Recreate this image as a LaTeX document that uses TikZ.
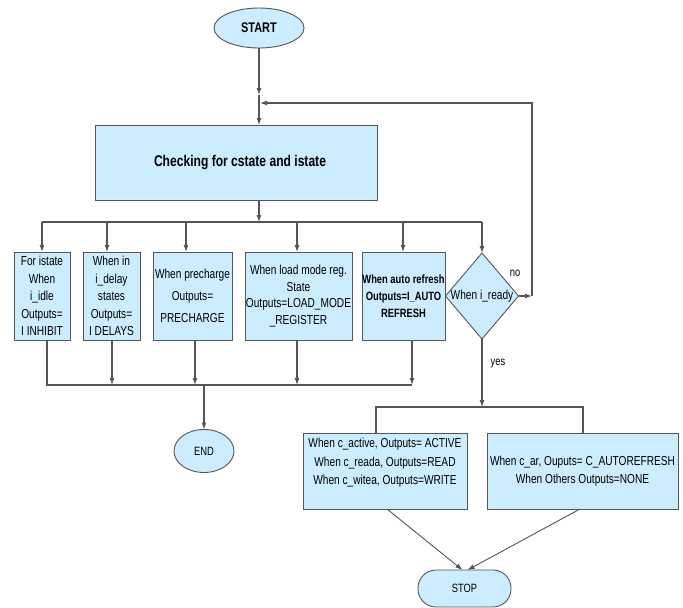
\documentclass[tikz,border=0pt]{standalone}
\usepackage{fontspec}
\setmainfont{Liberation Sans}[FakeStretch=0.78]
\usetikzlibrary{shapes.geometric,arrows.meta}
\definecolor{boxfill}{RGB}{204,236,255}
\definecolor{edge}{RGB}{85,85,85}

\begin{document}
\begin{tikzpicture}[x=1pt,y=-1pt,
  every node/.style={inner sep=0pt, outer sep=0pt},
  proc/.style={draw=edge, fill=boxfill, line width=0.9pt, align=center,
               font=\fontsize{13}{17.5}\selectfont},
  term/.style={ellipse, draw=edge, fill=boxfill, line width=0.9pt},
  flow/.style={draw=edge, line width=1.1pt, -{Latex[length=7pt,width=5pt]}},
  link/.style={draw=edge, line width=1.1pt},
  tag/.style={font=\fontsize{12}{14}\selectfont},
]
\useasboundingbox (0,0) rectangle (683,608);

% terminals and the main check
\node[term, minimum width=90pt, minimum height=40pt,
      font=\bfseries\fontsize{14}{16}\selectfont] (start) at (259,28) {START};
\node[proc, minimum width=282pt, minimum height=75pt,
      font=\bfseries\fontsize{15.5}{18}\selectfont] (check) at (236,162.5)
      {\hspace*{8pt}Checking for cstate and istate};

% state boxes
\node[proc, minimum width=56pt, minimum height=88pt] (b1) at (42,296)
  {For istate\\When\\i\_idle\\Outputs=\\I INHIBIT};
\node[proc, minimum width=57pt, minimum height=88pt] (b2) at (111.5,296)
  {When in\\i\_delay\\states\\Outputs=\\I DELAYS};
\node[proc, minimum width=79pt, minimum height=88pt,
      font=\fontsize{13}{22}\selectfont] (b3) at (192.5,296)
  {When precharge\\Outputs=\\PRECHARGE};
\node[proc, minimum width=107pt, minimum height=88pt,
      font=\fontsize{13}{16.7}\selectfont] (b4) at (298.5,296)
  {When load mode reg.\\State\\Outputs=LOAD\_MODE\\\_REGISTER};
\node[proc, minimum width=83pt, minimum height=88pt,
      font=\bfseries\fontsize{12}{17}\selectfont] (b5) at (403.5,296)
  {When auto refresh\\Outputs=I\_AUTO\\REFRESH};
\node[diamond, draw=edge, fill=boxfill, line width=0.9pt, aspect=0.85,
      minimum width=73pt, minimum height=86pt,
      font=\fontsize{13}{15}\selectfont] (dia) at (482,296) {When i\_ready};

\node[term, minimum width=60pt, minimum height=43pt,
      font=\fontsize{12}{14}\selectfont] (end) at (204,451) {END};

% command boxes
\node[proc, minimum width=164pt, minimum height=76pt] (b6) at (385,471) {};
\node[align=center, font=\fontsize{13}{18.5}\selectfont] (b6txt) at (385,463)
  {When c\_active, Outputs= ACTIVE\\When c\_reada, Outputs=READ\\When c\_witea, Outputs=WRITE};
\node[proc, minimum width=191pt, minimum height=76pt,
      font=\fontsize{13}{18.5}\selectfont] (b7) at (582.5,471)
  {When c\_ar, Ouputs= C\_AUTOREFRESH\\When Others Outputs=NONE};

\node[draw=edge, fill=boxfill, line width=0.9pt, rounded corners=18pt,
      minimum width=93pt, minimum height=37pt,
      font=\fontsize{12}{14}\selectfont] (stop) at (464.5,588.5) {STOP};

% branch labels
\node[tag] (nolbl) at (515,273) {no};
\node[tag] (yeslbl) at (498,364) {yes};

% start into the check, with the loop joining in
\coordinate (a1) at (259,95);
\coordinate (j0) at (259,103);
\draw[flow] (start) -- (a1);
\draw[link] (a1) -- (j0);
\draw[flow] (j0) -- (check.north -| j0);

% loop back from the ready test
\coordinate (loopR) at (532,296);
\draw[flow] (dia.east) -- (loopR);
\draw[flow, shorten >=-1pt] (loopR) |- ([xshift=2pt]j0);

% upper distribution bus
\coordinate (bus) at (259,222);
\coordinate (t1) at (42,222);
\coordinate (t2) at (107,222);
\coordinate (t3) at (186,222);
\coordinate (t4) at (297,222);
\coordinate (t5) at (403,222);
\coordinate (t6) at (482,222);
\draw[flow] (check.south -| bus) -- (bus);
\draw[link] (t1) -- (t6);
\draw[flow] (t1) -- (t1 |- b1.north);
\draw[flow] (t2) -- (t2 |- b2.north);
\draw[flow] (t3) -- (t3 |- b3.north);
\draw[flow] (t4) -- (t4 |- b4.north);
\draw[flow] (t5) -- (t5 |- b5.north);
\draw[flow] (t6) -- (dia.north);

% lower collecting bus into END
\coordinate (o1) at (47,385);
\coordinate (o2) at (112,385);
\coordinate (o3) at (195,385);
\coordinate (o4) at (297,385);
\coordinate (o5) at (412,385);
\coordinate (o0) at (204,385);
\draw[link] (o1 |- b1.south) -- (o1) -- (o5);
\draw[flow] (o2 |- b2.south) -- (o2);
\draw[flow] (o3 |- b3.south) -- (o3);
\draw[flow] (o4 |- b4.south) -- (o4);
\draw[flow] (o5 |- b5.south) -- (o5);
\draw[flow] (o0) -- (end.north);

% ready branch to the command boxes
\coordinate (ybus) at (482,407);
\coordinate (c6) at (376,407);
\coordinate (c7) at (583,407);
\draw[flow] (dia.south) -- (ybus);
\draw[link] (c6 |- b6.north) -- (c6) -- (c7) -- (c7 |- b7.north);

% command boxes into STOP
\draw[flow, line width=0.9pt] ([xshift=2pt]b6.south) -- ([xshift=-2pt]stop.north);
\draw[flow, line width=0.9pt] ([xshift=-2.5pt]b7.south) -- ([xshift=3pt]stop.north);
\end{tikzpicture}
\end{document}
